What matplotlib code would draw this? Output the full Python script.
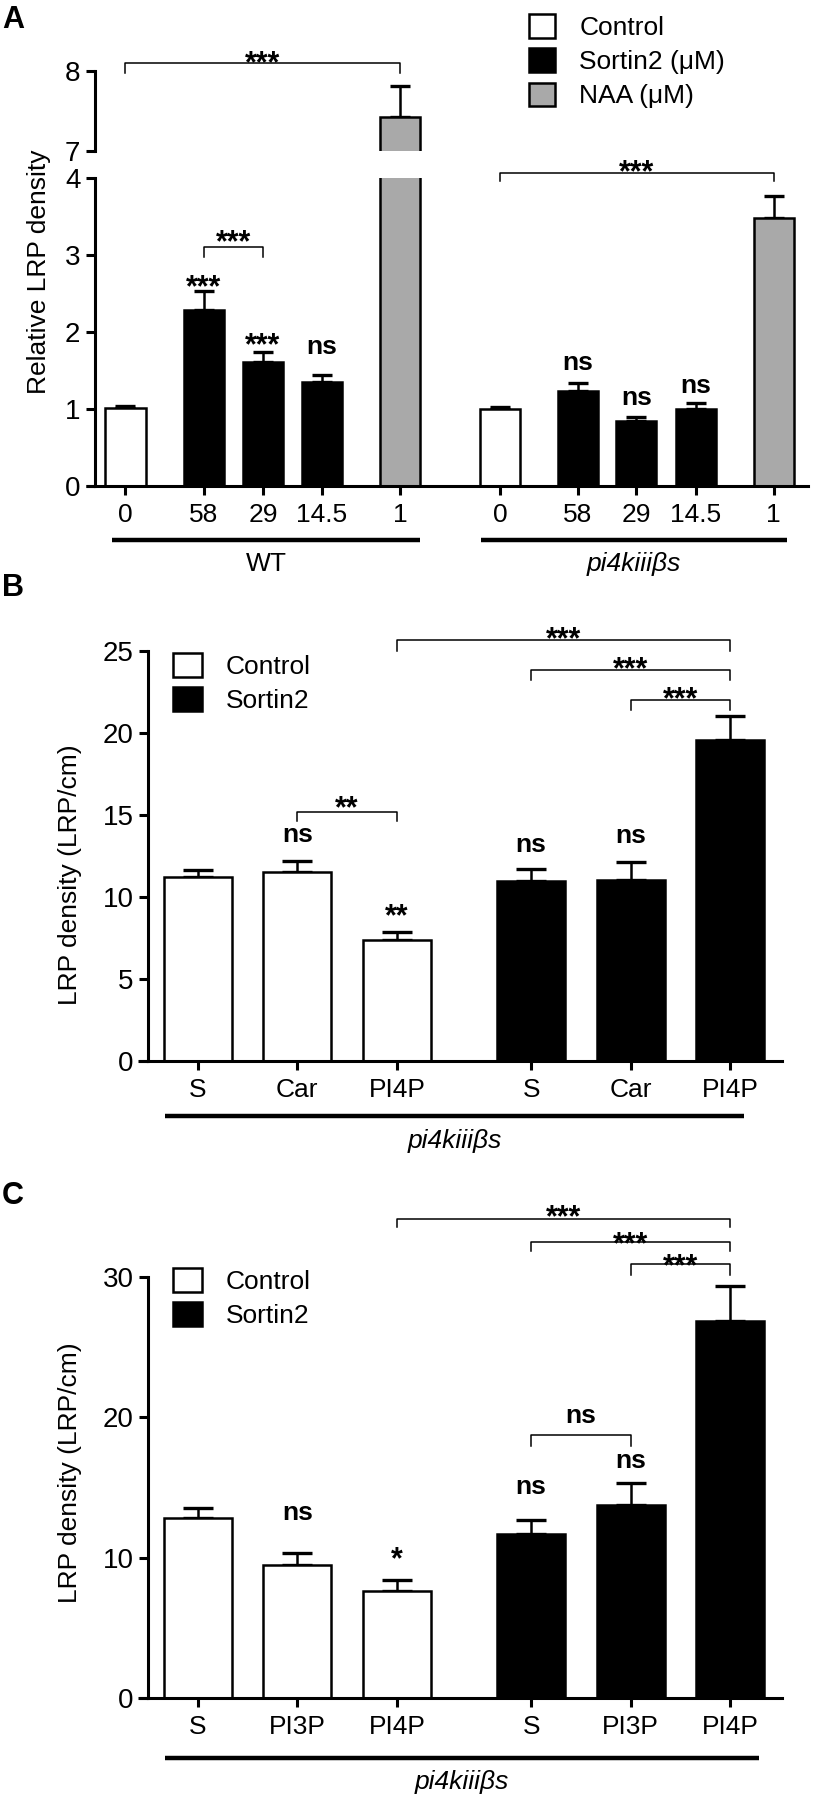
import matplotlib
matplotlib.use("Agg")
import matplotlib.pyplot as plt
import matplotlib.transforms as mtransforms
from matplotlib.patches import Patch
import numpy as np

plt.rcParams['font.family'] = ['Liberation Sans', 'DejaVu Sans']

# ---------------- data ----------------
# panel A
a_labels = ["0", "58", "29", "14.5", "1", "0", "58", "29", "14.5", "1"]
a_kind = ["ctrl", "sort", "sort", "sort", "naa", "ctrl", "sort", "sort", "sort", "naa"]
a_means = [1.01, 2.28, 1.61, 1.35, 7.43, 1.00, 1.23, 0.84, 1.00, 3.47]
a_sem = [0.03, 0.25, 0.13, 0.09, 0.39, 0.02, 0.10, 0.06, 0.07, 0.29]
a_marks = [None, "***", "***", "ns", None, None, "ns", "ns", "ns", None]
a_groups = ["WT", "pi4kiiiβs"]

# panel B
b_labels = ["S", "Car", "PI4P", "S", "Car", "PI4P"]
b_kind = ["ctrl", "ctrl", "ctrl", "sort", "sort", "sort"]
b_means = [11.2, 11.55, 7.4, 11.0, 11.05, 19.55]
b_sem = [0.45, 0.65, 0.47, 0.72, 1.1, 1.5]
b_marks = [None, "ns", "**", "ns", "ns", None]

# panel C
c_labels = ["S", "PI3P", "PI4P", "S", "PI3P", "PI4P"]
c_kind = ["ctrl", "ctrl", "ctrl", "sort", "sort", "sort"]
c_means = [12.8, 9.45, 7.65, 11.7, 13.75, 26.9]
c_sem = [0.75, 0.9, 0.76, 1.0, 1.55, 2.45]
c_marks = [None, "ns", "*", "ns", "ns", None]

colors = {"ctrl": "white", "sort": "black", "naa": "#a9a9a9"}

# ---------------- layout ----------------
a_pos = np.array([0, 1.33, 2.33, 3.33, 4.66, 6.35, 7.67, 8.66, 9.67, 10.99])
bc_pos = np.array([0, 1, 2, 3.35, 4.35, 5.35])
a_mark_y = [None, 2.70, 1.94, 1.80, None, None, 1.60, 1.14, 1.30, None]
b_mark_y = [None, 13.8, 9.4, 13.2, 13.7, None]
c_mark_y = [None, 13.16, 10.55, 15.06, 16.89, None]
# brackets: (bar i, bar j, line y, leg y, text y, text)
a_brackets_low = [(1, 2, 3.10, 2.97, 3.28, "***"), (5, 9, 4.06, 3.95, 4.19, "***")]
a_brackets_up = [(0, 4, 8.10, 7.98, 8.22, "***")]
b_brackets = [(2, 5, 25.69, 25.0, 26.28, "***"), (3, 5, 23.85, 23.23, 24.45, "***"),
              (4, 5, 22.01, 21.4, 22.64, "***"), (1, 2, 15.2, 14.61, 15.94, "**")]
c_brackets = [(2, 5, 34.15, 33.54, 34.93, "***"), (3, 5, 32.52, 31.86, 33.0, "***"),
              (4, 5, 30.93, 30.16, 31.39, "***"), (3, 4, 18.77, 17.97, 20.06, "ns")]

W, H = 815, 1794
fig = plt.figure(figsize=(W / 100, H / 100), dpi=100)

def px_axes(x0, x1, ytop, ybot):
    return fig.add_axes([x0 / W, 1 - ybot / H, (x1 - x0) / W, (ybot - ytop) / H])

FS_TICK = 20
FS_TXT = 19
FS_STAR = 22
LW = 2.2

def style(ax, bottom=True):
    for s in ["top", "right"]:
        ax.spines[s].set_visible(False)
    ax.spines["left"].set_linewidth(LW)
    ax.spines["bottom"].set_linewidth(LW)
    ax.tick_params(direction="out", length=6.5, width=LW, labelsize=FS_TICK, pad=4)
    ax.tick_params(axis="x", labelsize=FS_TXT, pad=6)
    if not bottom:
        ax.spines["bottom"].set_visible(False)
        ax.tick_params(axis="x", bottom=False, labelbottom=False)

def bars(ax, pos, means, sem, kind, width, capsize):
    ax.bar(pos, means, width=width, color=[colors[k] for k in kind],
           edgecolor="black", linewidth=1.8, zorder=2)
    ax.errorbar(pos, means, yerr=[np.zeros(len(sem)), sem], fmt="none",
                ecolor="black", elinewidth=1.8, capsize=capsize, capthick=2.4, zorder=1)

def put_text(ax, x, y, t):
    # asterisks sit high in the glyph box, shift anchor down so visual centre lands on y
    star = "*" in t
    fs = FS_STAR if star else FS_TXT
    dy = -0.33 * fs if star else 0
    ax.annotate(t, (x, y), xytext=(0, dy), textcoords="offset points",
                ha="center", va="center", fontsize=fs, fontweight="bold",
                annotation_clip=False, zorder=5)

def bracket(ax, pos, i, j, yl, yleg, yt, t):
    ax.plot([pos[i], pos[i], pos[j], pos[j]], [yleg, yl, yl, yleg], color="black",
            lw=1.1, clip_on=False, zorder=3)
    put_text(ax, (pos[i] + pos[j]) / 2, yt, t)

def extend_x(ax, frac):
    ax.plot([-frac, 0], [0, 0], transform=ax.transAxes, color="black", lw=LW,
            clip_on=False, solid_capstyle="butt")

def group_line(ax, x0, x1, y, lab, ylab, italic):
    tr = mtransforms.blended_transform_factory(ax.transData, ax.transAxes)
    ax.plot([x0, x1], [y, y], transform=tr, color="black", lw=3.2, clip_on=False,
            solid_capstyle="butt")
    ax.text((x0 + x1) / 2, ylab, lab, transform=tr, ha="center", va="center",
            fontsize=FS_TXT, style="italic" if italic else "normal")

def legend(handles, x, ytop, hl):
    fig.legend(handles=handles, loc="upper left", bbox_to_anchor=(x / W, 1 - ytop / H),
               bbox_transform=fig.transFigure, frameon=False, fontsize=FS_TXT,
               handlelength=hl, handleheight=1.0, handletextpad=0.9, labelspacing=0.32,
               borderpad=0, borderaxespad=0)

def patch(kind, label):
    return Patch(facecolor=colors[kind], edgecolor="black", lw=1.8, label=label)

# ---------------- panel A ----------------
ax_lo = px_axes(95, 808, 177.5, 486)
ax_up = px_axes(95, 808, 71.4, 151)
for ax in (ax_lo, ax_up):
    bars(ax, a_pos, a_means, a_sem, a_kind, 0.68, 7)
    ax.set_xlim(-0.517, 11.57)
    ax.patch.set_visible(False)
style(ax_lo)
style(ax_up, bottom=False)
ax_lo.set_ylim(0, 4)
ax_lo.set_yticks([0, 1, 2, 3, 4])
ax_up.set_ylim(7, 8)
ax_up.set_yticks([7, 8])
ax_lo.set_xticks(a_pos)
ax_lo.set_xticklabels(a_labels)
extend_x(ax_lo, 0.0126)
for x, y, t in zip(a_pos, a_mark_y, a_marks):
    if t:
        put_text(ax_lo, x, y, t)
for b in a_brackets_low:
    bracket(ax_lo, a_pos, *b)
for b in a_brackets_up:
    bracket(ax_up, a_pos, *b)
group_line(ax_lo, a_pos[0] - 0.23, a_pos[4] + 0.33, -0.175, a_groups[0], -0.254, False)
group_line(ax_lo, a_pos[5] - 0.32, a_pos[9] + 0.22, -0.175, a_groups[1], -0.254, True)
legend([patch("ctrl", "Control"), patch("sort", "Sortin2 (μM)"), patch("naa", "NAA (μM)")],
       529, 14, 1.0)
fig.text(39 / W, 1 - 272 / H, "Relative LRP density", rotation=90, ha="center", va="center",
         fontsize=FS_TXT)

# ---------------- panels B and C ----------------
def panel_bc(ytop, ybot, ymax, yticks, labels, means, sem, kind, marks, mark_y, brs,
             line_y, lab_y, line_x1, leg_top, ylab_y):
    ax = px_axes(148, 782, ytop, ybot)
    bars(ax, bc_pos, means, sem, kind, 0.68, 11)
    style(ax)
    ax.set_xlim(-0.5, 5.87)
    ax.set_ylim(0, ymax)
    ax.set_yticks(yticks)
    ax.set_xticks(bc_pos)
    ax.set_xticklabels(labels)
    extend_x(ax, 0.0158)
    for x, y, t in zip(bc_pos, mark_y, marks):
        if t:
            put_text(ax, x, y, t)
    for b in brs:
        bracket(ax, bc_pos, *b)
    group_line(ax, -0.33, line_x1, line_y, "pi4kiiiβs", lab_y, True)
    legend([patch("ctrl", "Control"), patch("sort", "Sortin2")], 173, leg_top, 1.1)
    fig.text(70 / W, 1 - ylab_y / H, "LRP density (LRP/cm)", rotation=90, ha="center",
             va="center", fontsize=FS_TXT)
    return ax

panel_bc(651, 1061, 25, [0, 5, 10, 15, 20, 25], b_labels, b_means, b_sem, b_kind, b_marks,
         b_mark_y, b_brackets, -0.134, -0.196, 5.49, 653, 875)
panel_bc(1277, 1698, 30, [0, 10, 20, 30], c_labels, c_means, c_sem, c_kind, c_marks,
         c_mark_y, c_brackets, -0.1435, -0.1995, 5.64, 1268, 1473)

for lab, yb in [("A", 28), ("B", 596), ("C", 1204)]:
    fig.text(2 / W, 1 - yb / H, lab, fontsize=22, fontweight="bold", va="baseline", ha="left")

fig.savefig("out.png", dpi=100)
